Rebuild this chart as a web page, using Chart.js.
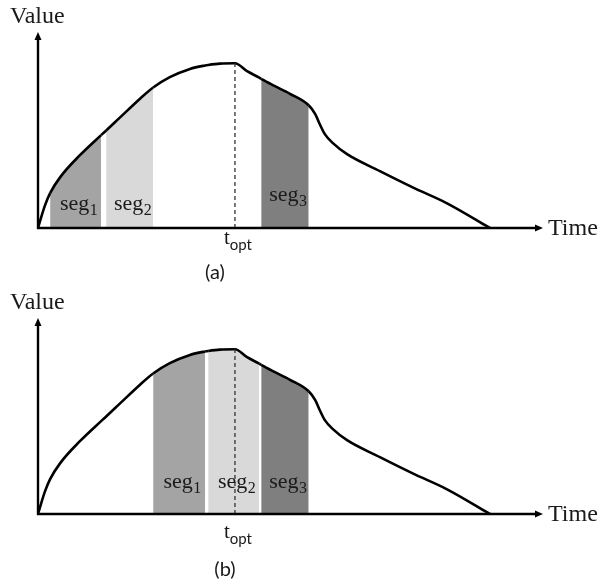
<!DOCTYPE html>
<html>
<head>
<meta charset="utf-8">
<script src="https://cdn.jsdelivr.net/npm/chart.js@4.4.1/dist/chart.umd.min.js"></script>
<style>
  html, body { margin: 0; padding: 0; background: #fff; }
  #wrap { position: relative; width: 599px; height: 582px; }
  canvas { position: absolute; left: 0; }
  #chartA { top: 0; }
  #chartB { top: 286px; }
</style>
</head>
<body>
<div id="wrap">
  <canvas id="chartA" width="599" height="286"></canvas>
  <canvas id="chartB" width="599" height="296"></canvas>
</div>
<script>
// value over time, same curve in both panels
var curveTime  = [0, 0.4, 1.4, 2.4, 4.4, 8.3, 12.5, 13.5, 16.2, 20.2, 22.8, 26.1, 30.1, 33.1, 33.7, 36, 39, 41.4, 43.8, 44.2, 46.5, 49.9, 53.6, 54.9, 55.8, 56.8, 58.4, 61.2, 67.7, 74.3, 81, 89.5];
var curveValue = [0, 4.2, 13.9, 21.2, 30.9, 44.2, 56.4, 59.2, 67, 78.5, 85.3, 91.6, 96.6, 98.7, 99, 99.8, 100, 95.2, 91.3, 90.6, 86.7, 81.5, 74.5, 69.1, 63, 57, 51.5, 44.8, 34.5, 24.5, 15, 0];
var tOpt = 39;

// segment windows (time)
var segLabels = ['1', '2', '3'];
var segFromA = [2.4, 13.5, 44.2];
var segToA   = [12.5, 22.8, 53.6];
var segFromB = [22.8, 33.7, 44.2];
var segToB   = [33.1, 43.8, 53.6];

var segColors = ['#a4a4a4', '#d9d9d9', '#7f7f7f'];
var ink = '#1a1a1a';

function segColor(from, to) {
  return function(ctx) {
    var t0 = curveTime[ctx.p0DataIndex], t1 = curveTime[ctx.p1DataIndex];
    for (var i = 0; i < from.length; i++) {
      if (t0 >= from[i] && t1 <= to[i]) return segColors[i];
    }
    return 'rgba(0,0,0,0)';
  };
}

function decor(panel) {
  return {
    id: 'decor',
    afterDraw: function(chart) {
      var c = chart.ctx, a = chart.chartArea, x = chart.scales.x;
      c.save();
      c.strokeStyle = '#000';
      c.fillStyle = '#000';
      c.lineWidth = 2.4;

      // y axis + arrow
      c.beginPath(); c.moveTo(a.left, a.bottom + 1); c.lineTo(a.left, a.top + 6); c.stroke();
      c.beginPath(); c.moveTo(a.left, a.top); c.lineTo(a.left - 3.5, a.top + 8); c.lineTo(a.left + 3.5, a.top + 8); c.closePath(); c.fill();
      // x axis + arrow
      c.beginPath(); c.moveTo(a.left - 1, a.bottom); c.lineTo(a.right - 6, a.bottom); c.stroke();
      c.beginPath(); c.moveTo(a.right, a.bottom); c.lineTo(a.right - 8, a.bottom - 3.5); c.lineTo(a.right - 8, a.bottom + 3.5); c.closePath(); c.fill();

      c.fillStyle = ink;
      c.textBaseline = 'alphabetic';
      c.textAlign = 'left';
      c.font = '24px "Liberation Serif"';
      c.fillText('Value', a.left - 28, a.top - 9);
      c.fillText('Time', a.right + 5, a.bottom + 7);

      // seg labels with subscripts
      for (var i = 0; i < panel.from.length; i++) {
        var cx = (x.getPixelForValue(panel.from[i]) + x.getPixelForValue(panel.to[i])) / 2 + 3;
        var base = a.bottom - panel.rise[i];
        c.font = '22px "Liberation Serif"';
        var w1 = c.measureText('seg').width;
        c.font = '16px "Liberation Serif"';
        var w2 = c.measureText(segLabels[i]).width;
        var sx = cx - (w1 + w2) / 2;
        c.font = '22px "Liberation Serif"';
        c.fillText('seg', sx, base);
        c.font = '16px "Liberation Serif"';
        c.fillText(segLabels[i], sx + w1 + 0.5, base + 5);
      }

      // t_opt under the dashed line
      var tx = x.getPixelForValue(tOpt) - 11;
      c.font = '21px "Liberation Serif"';
      c.fillText('t', tx, a.bottom + panel.tDy);
      var tw = c.measureText('t').width;
      c.font = '15px Lato';
      c.fillText('opt', tx + tw, a.bottom + panel.tDy + 6);

      c.font = '20px Lato';
      c.textAlign = 'center';
      c.fillText(panel.name, panel.nameX, a.bottom + panel.nameDy);
      c.restore();
    }
  };
}

function makeChart(id, panel) {
  var points = curveTime.map(function(t, i) { return {x: t, y: curveValue[i]}; });
  var peak = curveValue[curveTime.indexOf(tOpt)];
  return new Chart(document.getElementById(id), {
    type: 'line',
    data: {
      datasets: [
        {
          data: [{x: tOpt, y: 0}, {x: tOpt, y: peak}],
          borderColor: '#333',
          borderWidth: 1.3,
          borderDash: [4, 3],
          pointRadius: 0,
          fill: false
        },
        {
          data: points,
          borderColor: '#000',
          borderWidth: 2.6,
          pointRadius: 0,
          cubicInterpolationMode: 'monotone',
          fill: 'origin',
          backgroundColor: 'rgba(0,0,0,0)',
          segment: { backgroundColor: segColor(panel.from, panel.to) }
        }
      ]
    },
    options: {
      responsive: false,
      animation: false,
      events: [],
      layout: { padding: { left: 38, right: 56, top: 32, bottom: panel.bottom } },
      scales: {
        x: { type: 'linear', min: 0, max: 100, display: false },
        y: { min: 0, max: 119, display: false }
      },
      plugins: { legend: { display: false }, tooltip: { enabled: false } }
    },
    plugins: [decor(panel)]
  });
}

makeChart('chartA', { from: segFromA, to: segToA, rise: [18, 18, 27], bottom: 58, tDy: 16, name: '(a)', nameX: 215, nameDy: 51 });
makeChart('chartB', { from: segFromB, to: segToB, rise: [26, 26, 26], bottom: 68, tDy: 24, name: '(b)', nameX: 225, nameDy: 62 });
</script>
</body>
</html>
